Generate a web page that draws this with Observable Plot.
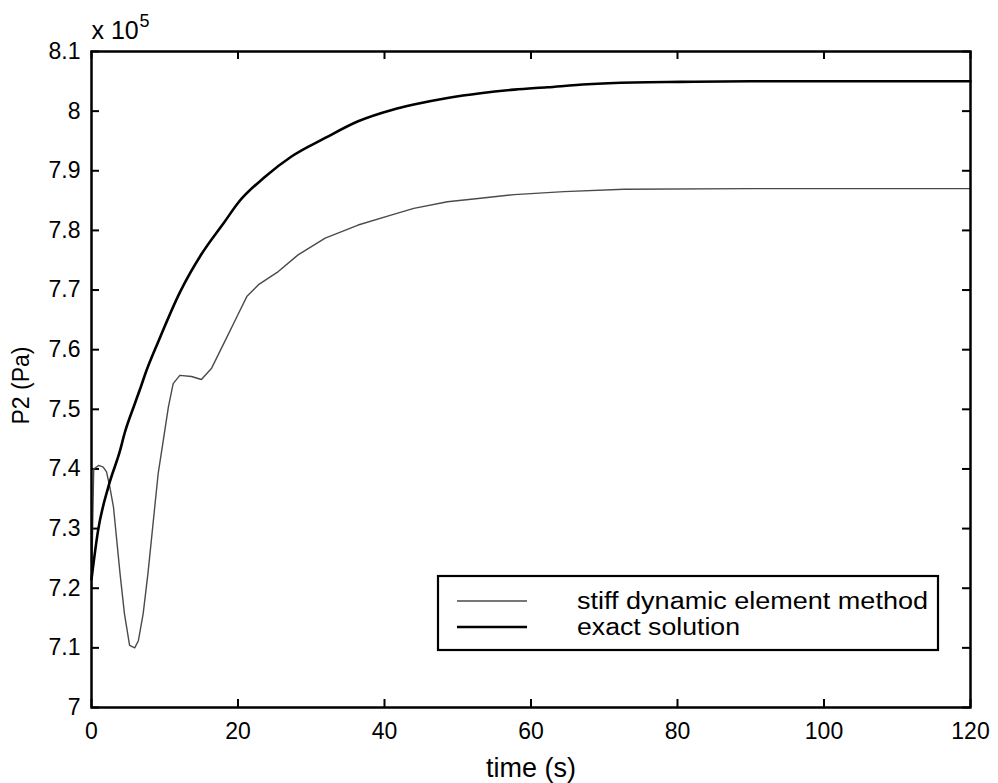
<!DOCTYPE html>
<html><head><meta charset="utf-8">
<script src="https://cdn.jsdelivr.net/npm/d3@7"></script>
<script src="https://cdn.jsdelivr.net/npm/@observablehq/plot@0.6"></script>
<style>body{margin:0;background:#fff} svg{display:block}</style>
</head><body><div id="chart"></div>
<script>
// Data (pressure in units of 10^5 Pa)
const stiffTime = [0, 0.15, 0.3, 1.0, 1.6, 2.05, 2.5, 3.0, 3.9, 4.5, 5.2, 5.9, 6.4, 7.05, 7.7, 8.4, 9.1, 9.8, 10.5, 11.15, 12.06, 13.65, 15.0, 16.4, 18.2, 20.0, 21.2, 22.8, 25.5, 28.2, 31.9, 36.4, 41.0, 44.0, 48.6, 53.1, 57.7, 64.5, 72.7, 90, 120];
const stiffP    = [7.20, 7.30, 7.40, 7.406, 7.403, 7.395, 7.370, 7.336, 7.224, 7.157, 7.104, 7.100, 7.112, 7.157, 7.224, 7.308, 7.392, 7.448, 7.504, 7.543, 7.557, 7.555, 7.550, 7.569, 7.614, 7.659, 7.689, 7.709, 7.731, 7.759, 7.787, 7.809, 7.826, 7.837, 7.848, 7.854, 7.860, 7.865, 7.869, 7.870, 7.870];
const exactTime = [0, 0.9, 2.3, 3.9, 4.5, 5.9, 6.8, 7.3, 9.1, 12.1, 15.0, 18.2, 20.0, 23.7, 27.3, 31.9, 36.4, 41.0, 44.0, 48.6, 53.1, 57.7, 62.2, 67.7, 74.0, 80.4, 90, 120];
const exactP    = [7.215, 7.297, 7.370, 7.431, 7.459, 7.509, 7.540, 7.558, 7.613, 7.697, 7.760, 7.815, 7.846, 7.890, 7.924, 7.955, 7.983, 8.002, 8.011, 8.022, 8.030, 8.036, 8.040, 8.045, 8.048, 8.049, 8.050, 8.050];
const xTicks = [0, 20, 40, 60, 80, 100, 120];
const yTicks = [7.0, 7.1, 7.2, 7.3, 7.4, 7.5, 7.6, 7.7, 7.8, 7.9, 8.0, 8.1];
const seriesNames = ["stiff dynamic element method", "exact solution"];
const xLabel = "time (s)";
const yLabel = "P2 (Pa)";
const yScaleNote = "x 10";
const yScaleExp = "5";

const stiff = stiffTime.map((t, i) => ({t, p: stiffP[i]}));
const exact = exactTime.map((t, i) => ({t, p: exactP[i]}));

const W = 998, H = 783, mL = 91, mR = 28, mT = 51, mB = 76;
const plotW = W - mL - mR, plotH = H - mT - mB;
const font = "'Liberation Sans', Arial, Helvetica, sans-serif";
const tick = 8;

const chart = Plot.plot({
  width: W, height: H,
  marginLeft: mL, marginRight: mR, marginTop: mT, marginBottom: mB,
  style: {fontFamily: font, background: "#fff", color: "#000", overflow: "visible"},
  x: {domain: [0, 120]},
  y: {domain: [7.0, 8.1]},
  marks: [
    Plot.axisX(xTicks, {anchor: "bottom", tickSize: 0, tickPadding: 15, fontSize: 23, label: null}),
    Plot.axisY(yTicks, {anchor: "left", tickSize: 0, tickPadding: 11, fontSize: 23, label: null,
      tickFormat: d => String(+d.toFixed(1))}),
    Plot.tickX(xTicks, {x: d => d, insetTop: plotH - tick, stroke: "#000", strokeWidth: 2}),
    Plot.tickX(xTicks, {x: d => d, insetBottom: plotH - tick, stroke: "#000", strokeWidth: 2}),
    Plot.tickY(yTicks, {y: d => d, insetRight: plotW - tick, stroke: "#000", strokeWidth: 2}),
    Plot.tickY(yTicks, {y: d => d, insetLeft: plotW - tick, stroke: "#000", strokeWidth: 2}),
    Plot.line(stiff, {x: "t", y: "p", stroke: "#4a4a4a", strokeWidth: 1.4}),
    Plot.line(exact, {x: "t", y: "p", stroke: "#000", strokeWidth: 2.6, curve: "monotone-x"}),
    Plot.frame({stroke: "#000", strokeWidth: 2.5}),
    Plot.text([xLabel], {frameAnchor: "bottom", dy: 61, textAnchor: "middle", lineAnchor: "middle", fontSize: 27, fill: "#000"}),
    Plot.text([yLabel], {frameAnchor: "left", dx: -70, dy: 6, rotate: -90, textAnchor: "middle", lineAnchor: "middle", fontSize: 23, fill: "#000"}),
    Plot.text([yScaleNote], {frameAnchor: "top-left", dy: -13, textAnchor: "start", lineAnchor: "bottom", fontSize: 25, fill: "#000"}),
    Plot.text([yScaleExp], {frameAnchor: "top-left", dx: 48, dy: -25, textAnchor: "start", lineAnchor: "bottom", fontSize: 18, fill: "#000"})
  ]
});

// Legend box inside the plot (lower right), as in the reference
const svg = d3.select(chart);
const lg = svg.append("g").attr("font-family", font).attr("text-anchor", "start");
lg.append("rect").attr("x", 438).attr("y", 576).attr("width", 500).attr("height", 74)
  .attr("fill", "#fff").attr("stroke", "#000").attr("stroke-width", 2.2);
const legendStyles = [{stroke: "#4a4a4a", w: 1.4, len: 351}, {stroke: "#000", w: 2.6, len: 163}];
seriesNames.forEach((name, i) => {
  const yy = 601 + i * 26;
  lg.append("line").attr("x1", 457).attr("x2", 527).attr("y1", yy).attr("y2", yy)
    .attr("stroke", legendStyles[i].stroke).attr("stroke-width", legendStyles[i].w);
  lg.append("text").attr("x", 577).attr("y", yy + 8).attr("font-size", 23)
    .attr("textLength", legendStyles[i].len).attr("lengthAdjust", "spacingAndGlyphs")
    .attr("text-anchor", "start").attr("fill", "#000").text(name);
});

document.getElementById("chart").appendChild(chart);
</script>
</body></html>
